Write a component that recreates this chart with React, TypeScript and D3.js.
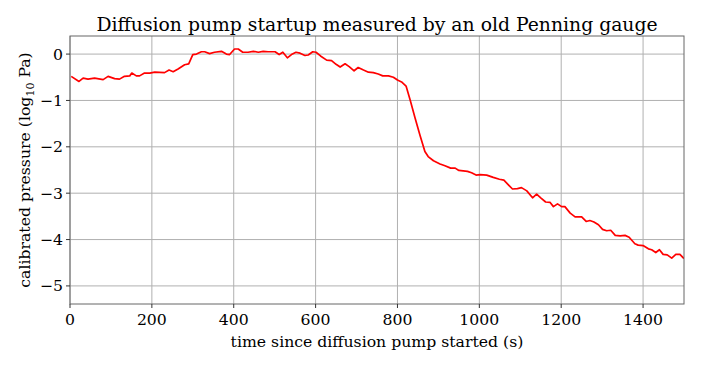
import React from "react";
import * as d3 from "d3";

const timeS = [3, 22, 32, 44, 60, 81, 93, 109, 121, 133, 146, 151, 162, 170, 182, 195, 207, 231, 242, 252, 264, 280, 290, 300, 309, 321, 329, 341, 353, 370, 382, 390, 402, 411, 422, 435, 448, 460, 472, 484, 501, 511, 520, 531, 541, 552, 562, 574, 582, 593, 601, 612, 627, 639, 650, 660, 672, 682, 694, 704, 717, 729, 741, 753, 764, 778, 790, 800, 810, 821, 831, 843, 855, 867, 875, 888, 904, 916, 930, 941, 950, 971, 981, 992, 1002, 1018, 1034, 1049, 1060, 1071, 1081, 1093, 1103, 1116, 1130, 1140, 1150, 1162, 1173, 1181, 1191, 1201, 1209, 1222, 1234, 1250, 1261, 1270, 1280, 1291, 1301, 1311, 1321, 1332, 1344, 1356, 1366, 1380, 1388, 1400, 1413, 1421, 1431, 1440, 1449, 1459, 1470, 1480, 1490, 1500];
const logPressure = [-0.48, -0.59, -0.52, -0.54, -0.52, -0.55, -0.48, -0.53, -0.54, -0.48, -0.47, -0.41, -0.47, -0.47, -0.41, -0.41, -0.39, -0.4, -0.345, -0.38, -0.32, -0.23, -0.21, -0.01, 0.0, 0.05, 0.05, 0.01, 0.04, 0.06, 0.0, -0.01, 0.11, 0.11, 0.04, 0.04, 0.06, 0.04, 0.06, 0.05, 0.05, -0.01, 0.04, -0.08, -0.01, 0.04, 0.02, -0.03, -0.02, 0.05, 0.04, -0.04, -0.13, -0.14, -0.22, -0.28, -0.21, -0.27, -0.36, -0.29, -0.345, -0.39, -0.4, -0.43, -0.47, -0.47, -0.5, -0.56, -0.6, -0.69, -0.99, -1.38, -1.75, -2.1, -2.21, -2.3, -2.37, -2.41, -2.46, -2.46, -2.51, -2.53, -2.56, -2.61, -2.6, -2.61, -2.66, -2.7, -2.72, -2.82, -2.91, -2.9, -2.88, -2.95, -3.1, -3.02, -3.1, -3.19, -3.2, -3.29, -3.23, -3.29, -3.29, -3.43, -3.51, -3.51, -3.61, -3.59, -3.62, -3.68, -3.78, -3.81, -3.8, -3.91, -3.92, -3.91, -3.95, -4.09, -4.12, -4.13, -4.2, -4.22, -4.28, -4.22, -4.32, -4.33, -4.4, -4.32, -4.32, -4.41];
const xTicks = [0, 200, 400, 600, 800, 1000, 1200, 1400];
const yTicks = [0, -1, -2, -3, -4, -5];
const title = "Diffusion pump startup measured by an old Penning gauge";
const xLabel = "time since diffusion pump started (s)";

const W = 705, H = 370;
const L = 70, R = 684, T = 36, B = 304;
const font = "DejaVu Serif";

export default function App() {
  const x = d3.scaleLinear().domain([0, 1500]).range([L, R]);
  const y = d3.scaleLinear().domain([-5.39, 0.39]).range([B, T]);
  const pts: [number, number][] = timeS.map((t, i) => [t, logPressure[i]]);
  const line = d3.line<[number, number]>().x(d => x(d[0])).y(d => y(d[1]));
  const fmt = (v: number) => (v < 0 ? "\u2212" + Math.abs(v) : String(v));
  return (
    <div style={{ position: "absolute", left: 0, top: 0 }}>
      <svg width={W} height={H} style={{ display: "block", background: "#fff" }}>
        <defs>
          <clipPath id="clip"><rect x={L} y={T} width={R - L} height={B - T} /></clipPath>
        </defs>
        {xTicks.map(t => (
          <line key={"gx" + t} x1={x(t)} x2={x(t)} y1={T} y2={B} stroke="#b0b0b0" strokeWidth={1} />
        ))}
        {yTicks.map(t => (
          <line key={"gy" + t} x1={L} x2={R} y1={y(t)} y2={y(t)} stroke="#b0b0b0" strokeWidth={1} />
        ))}
        <path d={line(pts) || ""} fill="none" stroke="#ff0000" strokeWidth={1.7} strokeLinejoin="round" clipPath="url(#clip)" />
        <rect x={L} y={T} width={R - L} height={B - T} fill="none" stroke="#666" strokeWidth={1} />
        {xTicks.map(t => (
          <g key={"tx" + t}>
            <line x1={x(t)} x2={x(t)} y1={B} y2={B + 4} stroke="#333" />
            <text x={x(t)} y={B + 21} textAnchor="middle" fontFamily={font} fontSize={15.7} fill="#000">{fmt(t)}</text>
          </g>
        ))}
        {yTicks.map(t => (
          <g key={"ty" + t}>
            <line x1={L - 4} x2={L} y1={y(t)} y2={y(t)} stroke="#333" />
            <text x={L - 7} y={y(t) + 5.5} textAnchor="end" fontFamily={font} fontSize={15.7} fill="#000">{fmt(t)}</text>
          </g>
        ))}
        <text x={(L + R) / 2} y={31} textAnchor="middle" fontFamily={font} fontSize={18.8} fill="#000">{title}</text>
        <text x={(L + R) / 2} y={347} textAnchor="middle" fontFamily={font} fontSize={15.7} fill="#000">{xLabel}</text>
        <text transform={`translate(30,${(T + B) / 2}) rotate(-90)`} textAnchor="middle" fontFamily={font} fontSize={15.7} fill="#000">
          calibrated pressure (log<tspan fontSize={11} dy={4}>10</tspan><tspan dy={-4}> Pa)</tspan>
        </text>
      </svg>
    </div>
  );
}
